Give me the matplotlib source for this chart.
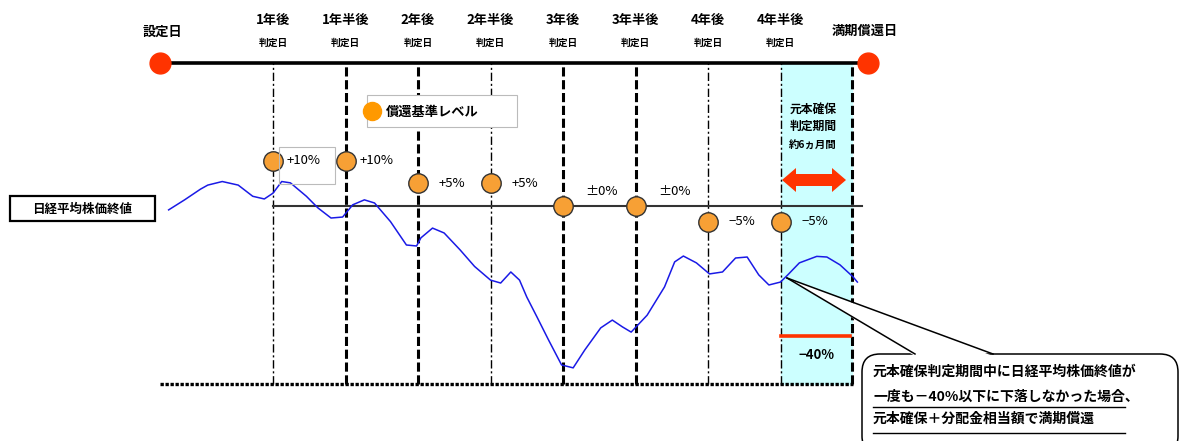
import matplotlib.pyplot as plt
import matplotlib.patches as mpatches
import numpy as np

plt.rcParams['font.family'] = ['Noto Sans CJK JP', 'DejaVu Sans']

# --- data ---------------------------------------------------------------
start_label = '設定日'
end_label = '満期償還日'
obs_labels = ['1年後', '1年半後', '2年後', '2年半後', '3年後', '3年半後', '4年後', '4年半後']
obs_years = [1.0, 1.5, 2.0, 2.5, 3.0, 3.5, 4.0, 4.5]
barrier_pct = [10, 10, 5, 5, 0, 0, -5, -5]
barrier_text = ['+10%', '+10%', '+5%', '+5%', '±0%', '±0%', '−5%', '−5%']
protect_pct = -40
start_year = 0.22
maturity_year = 5.0

nikkei_years = [0.28, 0.39, 0.50, 0.55, 0.65, 0.76, 0.86, 0.94, 1.00, 1.06,
                1.12, 1.23, 1.31, 1.40, 1.48, 1.55, 1.63, 1.70, 1.81, 1.92,
                1.99, 2.02, 2.10, 2.18, 2.29, 2.39, 2.50, 2.57, 2.64, 2.70,
                2.75, 2.82, 2.90, 2.99, 3.07, 3.15, 3.26, 3.34, 3.41, 3.47,
                3.58, 3.70, 3.77, 3.83, 3.92, 4.01, 4.10, 4.19, 4.27, 4.35,
                4.42, 4.50, 4.55, 4.63, 4.75, 4.82, 4.91, 5.00, 5.03]
nikkei_pct = [-1.3, 1.3, 3.7, 4.6, 5.4, 4.6, 2.1, 1.5, 2.8, 5.4,
              5.1, 2.1, -0.7, -3.8, -3.5, 0.2, 1.3, 0.6, -4.9, -12.1,
              -12.4, -9.9, -6.9, -8.4, -13.6, -18.7, -22.9, -23.8, -20.4, -22.9,
              -28.1, -34.2, -41.3, -49.0, -49.9, -44.4, -37.6, -35.2, -37.3, -38.9,
              -33.7, -25.0, -17.3, -15.5, -17.6, -21.0, -20.4, -16.1, -15.8, -21.3,
              -24.4, -23.5, -21.3, -17.6, -15.6, -15.8, -18.2, -21.9, -23.5]

callout_lines = ['元本確保判定期間中に日経平均株価終値が',
                 '一度も－40%以下に下落しなかった場合、',
                 '元本確保＋分配金相当額で満期償還']

# --- layout -------------------------------------------------------------
TOP = 32      # level of the time line
FLOOR = -55   # level of the dotted bottom line
K = 0.727     # schematic: below zero is drawn compressed


def fwd(v):
    v = np.asarray(v, float)
    return np.where(v >= 0, v, v * K)


def inv(u):
    u = np.asarray(u, float)
    return np.where(u >= 0, u, u / K)


RED = '#FF3300'
ORANGE = '#F7A035'
CYAN = '#CCFFFF'

fig = plt.figure(figsize=(11.82, 4.41), dpi=100)
ax = fig.add_axes([0, 0, 1, 1])
ax.set_yscale('function', functions=(fwd, inv))
ax.set_xlim(-0.883, 7.269)
ax.set_ylim(-72.4, 46.0)
ax.axis('off')

# overlay in pixel units for the free-standing boxes
ov = fig.add_axes([0, 0, 1, 1], zorder=5)
ov.set_xlim(0, 1182)
ov.set_ylim(441, 0)
ov.axis('off')
ov.patch.set_alpha(0)

# protection period band
ax.fill_between([obs_years[-1], maturity_year - 0.01], FLOOR, TOP, color=CYAN, zorder=0)
ax.plot([maturity_year - 0.01] * 2, [FLOOR, TOP], color='black', lw=2.2,
        ls=(0, (3, 1.2)), zorder=1)

# vertical date lines
thick = [False, True, True, False, True, True, False, False]
for yr, tk in zip(obs_years, thick):
    if tk:
        ax.plot([yr, yr], [FLOOR, TOP], color='black', lw=2.2, ls=(0, (3, 1.2)), zorder=1)
    else:
        ax.plot([yr, yr], [FLOOR, TOP], color='black', lw=1.0,
                ls=(0, (6, 2, 1.5, 2)), zorder=1)

# time line and end dots
ax.plot([start_year, maturity_year + 0.1], [TOP, TOP], color='black', lw=2.6, zorder=2)
ax.plot([start_year, maturity_year + 0.1], [TOP, TOP], 'o', color=RED, ms=15, zorder=3)
ax.annotate(start_label, (start_year, TOP), xytext=(2, 22), textcoords='offset points',
            ha='center', va='center', fontsize=9.5, fontweight='bold')
ax.annotate(end_label, (maturity_year + 0.1, TOP), xytext=(-2, 23), textcoords='offset points',
            ha='center', va='center', fontsize=9.5, fontweight='bold')
for yr, lab in zip(obs_years, obs_labels):
    ax.annotate(lab, (yr, TOP), xytext=(0, 31), textcoords='offset points',
                ha='center', va='center', fontsize=9.5, fontweight='bold')
    ax.annotate('判定日', (yr, TOP), xytext=(0, 14.5), textcoords='offset points',
                ha='center', va='center', fontsize=7, fontweight='bold')

# bottom dotted line
ax.plot([start_year, maturity_year], [FLOOR, FLOOR], color='black', lw=2.4,
        ls=(0, (1.0, 0.5)), zorder=2)

# zero reference line
ax.plot([obs_years[0], maturity_year + 0.06], [0, 0], color='#333333', lw=1.5, zorder=2)

# -40% protection line
ax.plot([obs_years[-1], maturity_year - 0.02], [protect_pct, protect_pct],
        color=RED, lw=2.6, zorder=3)
ax.annotate('−40%', ((obs_years[-1] + maturity_year) / 2, protect_pct), xytext=(0, -14),
            textcoords='offset points', ha='center', va='center',
            fontsize=9.5, fontweight='bold')

# Nikkei path
ax.plot(nikkei_years, nikkei_pct, color='#1A1AE6', lw=1.1, zorder=4)

# redemption barriers
ax.plot(obs_years, barrier_pct, 'o', ms=14, mfc=ORANGE, mec='#333333', mew=1.0, zorder=6)
for yr, pct, txt in zip(obs_years, barrier_pct, barrier_text):
    if pct == 0:
        off = (16, 10)
    elif pct == 10:
        off = (10, 0)
    else:
        off = (15, 0)
    ax.annotate(txt, (yr, pct), xytext=off, textcoords='offset points',
                ha='left', va='center', fontsize=9.5)

# --- overlay boxes (pixel positions) -----------------------------------
ov.add_patch(mpatches.Rectangle((279, 147), 56, 37, fill=False, ec='#BBBBBB', lw=0.8))

ov.add_patch(mpatches.Rectangle((367, 95), 150, 32, fc='white', ec='#BBBBBB', lw=0.8))
ov.plot(372, 111, 'o', ms=13, color='#FF9900')
ov.text(386, 112, '償還基準レベル', ha='left', va='center', fontsize=9.5, fontweight='bold')

ov.add_patch(mpatches.Rectangle((10, 196), 145, 25, fc='white', ec='black', lw=1.6))
ov.text(82, 209, '日経平均株価終値', ha='center', va='center', fontsize=9, fontweight='bold')

ov.text(813, 109, '元本確保', ha='center', va='center', fontsize=8.5, fontweight='bold')
ov.text(813, 126, '判定期間', ha='center', va='center', fontsize=8.5, fontweight='bold')
ov.text(813, 146, '約6ヵ月間', ha='center', va='center', fontsize=7.5, fontweight='bold')

# double-headed arrow over the protection period
ax_l, ax_r, ay, hh, bh, hl = 782, 846, 180, 12, 6, 14
ov.add_patch(mpatches.Polygon([(ax_l, ay), (ax_l + hl, ay - hh), (ax_l + hl, ay - bh),
                               (ax_r - hl, ay - bh), (ax_r - hl, ay - hh), (ax_r, ay),
                               (ax_r - hl, ay + hh), (ax_r - hl, ay + bh),
                               (ax_l + hl, ay + bh), (ax_l + hl, ay + hh)],
                              closed=True, fc=RED, ec='none'))

# callout bubble
ov.add_patch(mpatches.FancyBboxPatch((862, 354), 316, 100,
                                     boxstyle='round,pad=0,rounding_size=18',
                                     fc='white', ec='black', lw=1.1))
tip = (787, 278)
ov.add_patch(mpatches.Polygon([tip, (915, 356), (993, 356)], closed=True,
                              fc='white', ec='none', zorder=6))
ov.plot([tip[0], 915], [tip[1], 354], color='black', lw=1.1, zorder=7)
ov.plot([tip[0], 993], [tip[1], 354], color='black', lw=1.1, zorder=7)

for line, ty in zip(callout_lines, [372, 397, 419]):
    ov.text(873, ty, line, ha='left', va='center', fontsize=10, fontweight='bold', zorder=8)
ov.plot([873, 1125], [407, 407], color='black', lw=1.0, zorder=8)
ov.plot([873, 1125], [433, 433], color='black', lw=1.0, zorder=8)

fig.savefig('out.png', dpi=100)
